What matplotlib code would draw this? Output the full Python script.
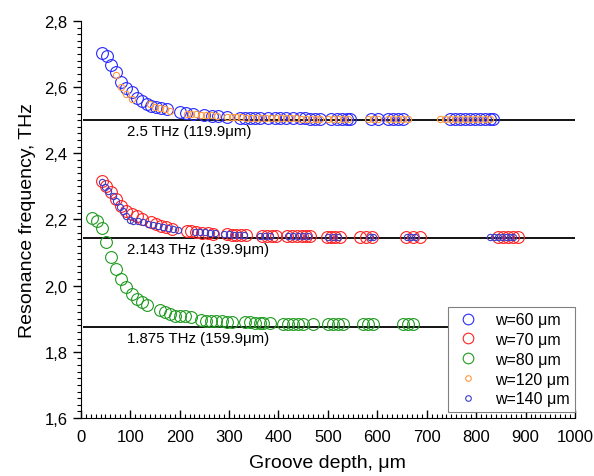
import matplotlib
matplotlib.use("Agg")
import matplotlib.pyplot as plt
from matplotlib.ticker import MultipleLocator, FuncFormatter

plt.rcParams["font.family"] = ["Liberation Sans", "DejaVu Sans"]

# w = 60 um (large blue)
x60 = [42, 53, 62, 72, 82, 92, 103, 113, 123, 133, 143, 153, 163, 174,
       200, 213, 227, 250, 265, 278, 295, 322, 332, 342, 352, 362, 379, 393,
       403, 416, 430, 443, 453, 464, 474, 484, 507, 518, 528, 538, 545,
       588, 602, 622, 632, 642, 652, 747, 757, 767, 777, 787, 797, 808, 818,
       828, 834]
y60 = [2.703, 2.695, 2.667, 2.645, 2.615, 2.597, 2.584, 2.566, 2.559, 2.549,
       2.544, 2.539, 2.536, 2.534,
       2.524, 2.522, 2.518, 2.515, 2.513, 2.512, 2.510, 2.508, 2.508, 2.508,
       2.507, 2.507, 2.507, 2.506, 2.506, 2.506, 2.506, 2.506, 2.506, 2.505,
       2.505, 2.505, 2.505, 2.505, 2.505, 2.505, 2.505,
       2.504, 2.504, 2.504, 2.504, 2.504, 2.504, 2.504, 2.504, 2.504, 2.504,
       2.504, 2.504, 2.504, 2.504, 2.504, 2.504]

# w = 70 um (large red)
x70 = [42, 52, 62, 72, 82, 92, 103, 113, 123, 143, 153, 163, 173, 184,
       214, 224, 234, 246, 258, 268, 295, 305, 315, 325, 335, 366, 376, 386,
       396, 417, 427, 437, 447, 456, 464, 498, 506, 514, 524,
       565, 577, 589, 658, 672, 686, 845, 855, 865, 875, 885]
y70 = [2.317, 2.302, 2.282, 2.262, 2.242, 2.227, 2.217, 2.210, 2.200, 2.191,
       2.186, 2.181, 2.176, 2.171, 2.166, 2.166, 2.162, 2.160, 2.158, 2.157,
       2.155, 2.154, 2.153, 2.153, 2.152, 2.151, 2.151, 2.150, 2.150, 2.150,
       2.150, 2.149, 2.149, 2.149, 2.149, 2.148, 2.148, 2.148, 2.148,
       2.148, 2.148, 2.148, 2.147, 2.147, 2.147, 2.147, 2.147, 2.147, 2.147,
       2.147]

# w = 80 um (large green)
x80 = [22, 32, 42, 52, 62, 72, 82, 92, 103, 113, 123, 133,
       160, 170, 180, 190, 200, 211, 224, 244, 254, 264, 274, 285, 295, 305,
       332, 342, 352, 362, 369, 383, 410, 420, 430, 440, 450, 470,
       500, 510, 520, 530, 571, 581, 591, 652, 662, 672]
y80 = [2.204, 2.196, 2.173, 2.133, 2.086, 2.050, 2.020, 1.995, 1.975, 1.960,
       1.950, 1.941, 1.926, 1.919, 1.915, 1.909, 1.907, 1.907, 1.904,
       1.897, 1.894, 1.894, 1.893, 1.892, 1.891, 1.890,
       1.889, 1.889, 1.888, 1.888, 1.886, 1.886, 1.885, 1.885, 1.885, 1.885,
       1.885, 1.885, 1.884, 1.884, 1.884, 1.884, 1.884, 1.884, 1.884,
       1.883, 1.883, 1.883]

# w = 120 um (small orange)
x120 = [72, 82, 92, 103, 140, 150, 160, 170, 180, 214, 224, 234, 244, 254,
        264, 275, 295, 305, 315, 325, 335, 345, 355, 365, 375, 385, 395, 405,
        415, 425, 435, 445, 455, 465, 475, 485, 500, 510, 520, 530, 540,
        582, 592, 602, 622, 632, 642, 652, 662, 727, 737, 747, 757, 767, 777,
        787, 797, 808, 818, 828]
y120 = [2.637, 2.600, 2.580, 2.564, 2.549, 2.541, 2.537, 2.534, 2.529,
        2.520, 2.519, 2.518, 2.517, 2.516, 2.515, 2.514, 2.510, 2.510, 2.509,
        2.509, 2.508, 2.508, 2.508, 2.507, 2.507, 2.507, 2.506, 2.506, 2.506,
        2.506, 2.506, 2.505, 2.505, 2.505, 2.505, 2.505, 2.505, 2.505, 2.505,
        2.505, 2.505, 2.504, 2.504, 2.504, 2.504, 2.504, 2.504, 2.504, 2.504,
        2.503, 2.503, 2.503, 2.503, 2.503, 2.503, 2.503, 2.503, 2.503, 2.503,
        2.503]

# w = 140 um (small blue)
x140 = [42, 49, 55, 65, 72, 79, 86, 92, 99, 106, 116, 126, 136, 146, 156,
        167, 177, 187, 197, 231, 241, 251, 261, 271, 290, 300, 310, 320, 330,
        362, 372, 382, 420, 430, 440, 450, 460, 500, 510, 520, 585, 591,
        661, 668, 676, 828, 836, 844, 852, 860, 868, 875]
y140 = [2.314, 2.297, 2.287, 2.272, 2.257, 2.237, 2.227, 2.211, 2.199, 2.196,
        2.196, 2.191, 2.186, 2.182, 2.179, 2.176, 2.173, 2.171, 2.168,
        2.163, 2.162, 2.161, 2.160, 2.159, 2.155, 2.155, 2.154, 2.154, 2.153,
        2.151, 2.151, 2.150, 2.149, 2.149, 2.149, 2.149, 2.149, 2.148, 2.148,
        2.148, 2.148, 2.148, 2.147, 2.147, 2.147, 2.147, 2.147, 2.147, 2.147,
        2.147, 2.147, 2.147]

# reference levels
ref_freq = [2.5, 2.143, 1.875]
ref_text = ["2.5 THz (119.9\u03bcm)", "2.143 THz (139.9\u03bcm)",
            "1.875 THz (159.9\u03bcm)"]

fig = plt.figure(figsize=(5.94, 4.77), dpi=100)
ax = fig.add_axes([0.136, 0.1216, 0.832, 0.8324])

big = dict(linestyle="none", marker="o", markersize=8.5, markerfacecolor="none",
           markeredgewidth=0.8)
small = dict(linestyle="none", marker="o", markersize=4.5, markerfacecolor="none",
             markeredgewidth=0.8)

for f, t in zip(ref_freq, ref_text):
    ax.hlines(f, 5, 1000, color="black", lw=1.3, zorder=1)
    ax.text(93, f - 0.011, t, fontsize=10.8, va="top", ha="left")

ax.plot(x60, y60, color="#2929ff", label="w=60 \u03bcm", zorder=3, **big)
ax.plot(x70, y70, color="#ff2020", label="w=70 \u03bcm", zorder=3, **big)
ax.plot(x80, y80, color="#1f9a1f", label="w=80 \u03bcm", zorder=3, **big)
ax.plot(x120, y120, color="#ff9a3c", label="w=120 \u03bcm", zorder=4, **small)
ax.plot(x140, y140, color="#3d3dc8", label="w=140 \u03bcm", zorder=4, **small)

ax.set_xlim(0, 1000)
ax.set_ylim(1.6, 2.8)
ax.xaxis.set_major_locator(MultipleLocator(100))
ax.xaxis.set_minor_locator(MultipleLocator(10))
ax.yaxis.set_major_locator(MultipleLocator(0.2))
ax.yaxis.set_minor_locator(MultipleLocator(0.02))
ax.yaxis.set_major_formatter(FuncFormatter(lambda v, p: f"{v:.1f}".replace(".", ",")))

ax.spines["top"].set_visible(False)
ax.spines["right"].set_visible(False)
ax.tick_params(axis="x", which="major", direction="in", length=6, width=1,
               labelsize=12, pad=8)
ax.tick_params(axis="x", which="minor", direction="in", length=3, width=0.8)
ax.tick_params(axis="y", which="major", direction="out", length=6, width=1,
               labelsize=12)
ax.tick_params(axis="y", which="minor", direction="out", length=3, width=0.8)

ax.set_xlabel("Groove depth, \u03bcm", fontsize=14, labelpad=7)
ax.set_ylabel("Resonance frequency, THz", fontsize=14, labelpad=6)

leg = ax.legend(loc="lower right", bbox_to_anchor=(1.0, 0.015), fontsize=11.5,
                frameon=True, fancybox=False, framealpha=1, edgecolor="#808080",
                borderaxespad=0, handletextpad=0.8, labelspacing=0.3,
                handlelength=1.8, borderpad=0.35, markerscale=0.9)
leg.get_frame().set_linewidth(0.8)

fig.savefig("out.png", dpi=100)
